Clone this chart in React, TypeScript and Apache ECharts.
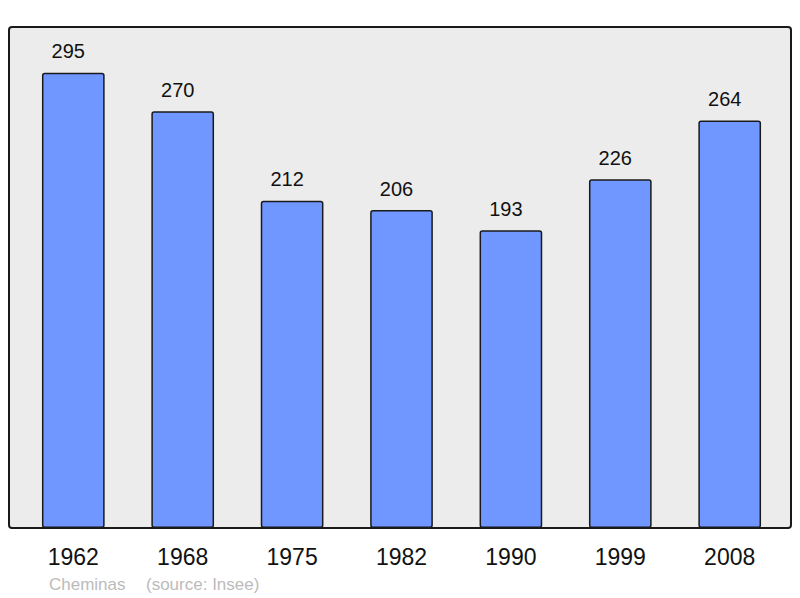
import React, { useEffect, useRef } from "react";
import * as echarts from "echarts";

const years = ["1962", "1968", "1975", "1982", "1990", "1999", "2008"];
const population = [295, 270, 212, 206, 193, 226, 264];
const footerName = "Cheminas";
const footerSource = "(source: Insee)";

export default function App() {
  const ref = useRef<HTMLDivElement>(null);
  useEffect(() => {
    if (!ref.current) return;
    const chart = echarts.init(ref.current, null, { renderer: "svg" });
    chart.setOption({
      animation: false,
      textStyle: { fontFamily: "Liberation Sans, Arial, sans-serif" },
      graphic: [
        {
          type: "rect",
          z: -10,
          shape: { x: 9, y: 27, width: 782, height: 501, r: 3 },
          style: { fill: "#ececec", stroke: "#1a1a1a", lineWidth: 2 },
        },
        {
          type: "text",
          left: 49,
          top: 576,
          style: {
            text: footerName,
            fill: "#bbbbbb",
            font: "17px Liberation Sans, Arial, sans-serif",
          },
        },
        {
          type: "text",
          left: 146,
          top: 576,
          style: {
            text: footerSource,
            fill: "#bbbbbb",
            font: "17px Liberation Sans, Arial, sans-serif",
          },
        },
      ],
      grid: { left: 18.6, right: 15.6, top: 65, bottom: 70 },
      xAxis: {
        type: "category",
        data: years,
        axisLine: { show: false },
        axisTick: { show: false },
        axisLabel: {
          color: "#111",
          fontSize: 23,
          margin: 17,
          fontFamily: "Liberation Sans, Arial, sans-serif",
        },
      },
      yAxis: {
        type: "value",
        min: 0,
        max: 300,
        show: false,
        splitLine: { show: false },
      },
      series: [
        {
          type: "bar",
          data: population,
          barWidth: "57.3%",
          itemStyle: {
            color: "#7096ff",
            borderColor: "#1a1a1a",
            borderWidth: 1.5,
            borderRadius: 2,
          },
          label: {
            show: true,
            position: "top",
            distance: 11.5,
            offset: [-5, 0],
            color: "#111",
            fontSize: 20,
            fontFamily: "Liberation Sans, Arial, sans-serif",
          },
        },
      ],
    });
    return () => chart.dispose();
  }, []);
  return <div ref={ref} style={{ width: 800, height: 598, position: "absolute", left: 0, top: 0 }} />;
}
